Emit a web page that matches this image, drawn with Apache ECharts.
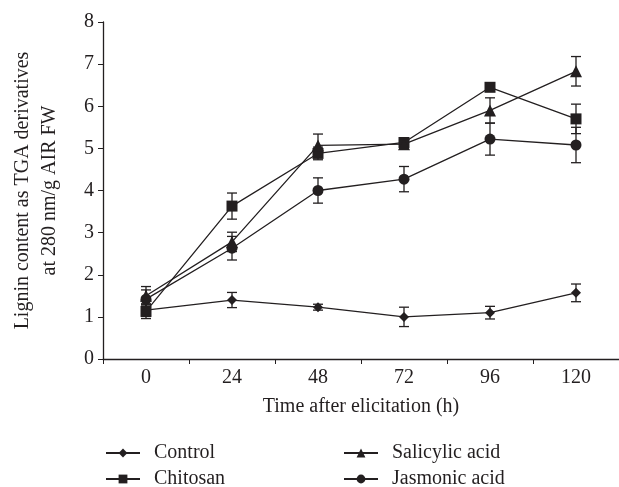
<!DOCTYPE html>
<html>
<head>
<meta charset="utf-8">
<script src="https://cdn.jsdelivr.net/npm/echarts@6/dist/echarts.min.js"></script>
<style>
  html, body { margin: 0; padding: 0; background: #fff; }
  #chart { width: 619px; height: 487px; }
</style>
</head>
<body>
<div id="chart"></div>
<script>
  // time points (h)
  const hours = ['0', '24', '48', '72', '96', '120']

  // means
  const control = [1.16, 1.40, 1.23, 1.00, 1.10, 1.57]
  const chitosan = [1.13, 3.63, 4.88, 5.14, 6.45, 5.70]
  const salicylic = [1.50, 2.78, 5.07, 5.10, 5.90, 6.83]
  const jasmonic = [1.42, 2.63, 4.00, 4.27, 5.22, 5.08]

  // error bar half-widths
  const controlErr = [0.15, 0.18, 0.07, 0.23, 0.15, 0.21]
  const chitosanErr = [0.17, 0.31, 0.15, 0.09, 0.09, 0.35]
  const salicylicErr = [0.22, 0.23, 0.27, 0.10, 0.30, 0.35]
  const jasmonicErr = [0.22, 0.28, 0.30, 0.30, 0.38, 0.42]

  const serif = '"Liberation Serif", "DejaVu Serif", serif'
  const ink = '#231f20'

  const chart = echarts.init(document.getElementById('chart'))

  const lineSeries = (name, data, symbol, size) => ({
    name: name,
    type: 'line',
    data: data,
    symbol: symbol,
    symbolSize: size,
    z: 3,
    lineStyle: { color: ink, width: 1.3 },
    itemStyle: { color: ink },
    emphasis: { disabled: true }
  })

  // I-beam error bars
  const errSeries = (means, errs) => ({
    type: 'custom',
    z: 2,
    silent: true,
    data: means.map((m, i) => [i, m - errs[i], m + errs[i]]),
    renderItem: (params, api) => {
      const lo = api.coord([api.value(0), api.value(1)])
      const hi = api.coord([api.value(0), api.value(2)])
      const w = 5
      const style = { stroke: ink, lineWidth: 1.3 }
      return {
        type: 'group',
        children: [
          { type: 'line', shape: { x1: lo[0], y1: lo[1], x2: hi[0], y2: hi[1] }, style: style },
          { type: 'line', shape: { x1: lo[0] - w, y1: lo[1], x2: lo[0] + w, y2: lo[1] }, style: style },
          { type: 'line', shape: { x1: hi[0] - w, y1: hi[1], x2: hi[0] + w, y2: hi[1] }, style: style }
        ]
      }
    }
  })

  const legendBase = {
    orient: 'vertical',
    top: 438,
    height: 60,
    itemWidth: 34,
    itemHeight: 11,
    itemGap: 6,
    textStyle: { fontFamily: serif, fontSize: 20, color: ink, padding: [0, 0, 0, 9] }
  }

  const option = {
    animation: false,
    textStyle: { fontFamily: serif },
    grid: { left: 103, top: 22, bottom: 128, right: -9 },
    legend: [
      Object.assign({}, legendBase, { data: ['Control', 'Chitosan'], left: 100 }),
      Object.assign({}, legendBase, { data: ['Salicylic acid', 'Jasmonic acid'], left: 338 })
    ],
    xAxis: {
      type: 'category',
      data: hours,
      boundaryGap: true,
      name: 'Time after elicitation (h)',
      nameLocation: 'middle',
      nameGap: 38,
      nameTextStyle: { fontFamily: serif, fontSize: 20, color: ink },
      axisLine: { lineStyle: { color: ink, width: 1.3 } },
      axisTick: { show: true, length: 5, lineStyle: { color: ink } },
      axisLabel: { fontFamily: serif, fontSize: 20, color: ink, margin: 9 },
      splitLine: { show: false }
    },
    yAxis: {
      type: 'value',
      min: 0,
      max: 8,
      interval: 1,
      name: 'Lignin content as TGA derivatives\nat 280 nm/g AIR FW',
      nameLocation: 'middle',
      nameGap: 40,
      nameTextStyle: { fontFamily: serif, fontSize: 20, color: ink, lineHeight: 27 },
      axisLine: { show: true, lineStyle: { color: ink, width: 1.3 } },
      axisTick: { show: true, length: 5, lineStyle: { color: ink } },
      axisLabel: { fontFamily: serif, fontSize: 20, color: ink, margin: 9 },
      splitLine: { show: false }
    },
    series: [
      errSeries(control, controlErr),
      errSeries(chitosan, chitosanErr),
      errSeries(salicylic, salicylicErr),
      errSeries(jasmonic, jasmonicErr),
      lineSeries('Control', control, 'diamond', 10),
      lineSeries('Chitosan', chitosan, 'rect', 11),
      lineSeries('Salicylic acid', salicylic, 'triangle', 12),
      lineSeries('Jasmonic acid', jasmonic, 'circle', 11)
    ]
  }

  chart.setOption(option)
</script>
</body>
</html>
